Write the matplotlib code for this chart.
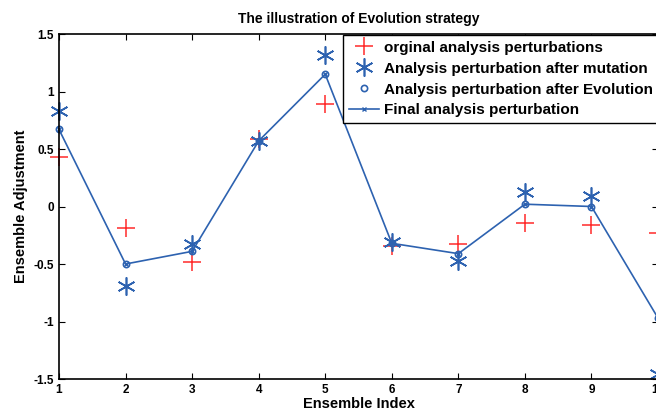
import matplotlib
matplotlib.use("Agg")
import matplotlib.pyplot as plt

plt.rcParams['font.family'] = ['Liberation Sans', 'DejaVu Sans']
plt.rcParams['font.weight'] = 'bold'

ensemble_index = [1, 2, 3, 4, 5, 6, 7, 8, 9, 10]
original = [0.43, -0.19, -0.48, 0.59, 0.89, -0.34, -0.33, -0.14, -0.16, -0.23]
mutated = [0.83, -0.69, -0.33, 0.57, 1.32, -0.31, -0.47, 0.13, 0.09, -1.46]
evolved = [0.67, -0.50, -0.39, 0.57, 1.15, -0.32, -0.41, 0.02, 0.00, -0.97]
final = evolved

blue = '#2d62b0'
red = '#ff2a2a'

fig = plt.figure(figsize=(6.56, 4.13), dpi=100)
ax = fig.add_axes([59/656, 1 - 379/413, (658 - 59)/656, (379 - 34)/413])

ax.plot(ensemble_index, original, '+', color=red, markersize=13, mew=1.1,
        clip_on=False, label='orginal analysis perturbations')
ax.plot(ensemble_index, mutated, linestyle='none', marker=(6, 2, 0), color=blue,
        markersize=13, mew=1.2, clip_on=False,
        label='Analysis perturbation after mutation')
ax.plot(ensemble_index, evolved, 'o', color=blue, markersize=4.5, mfc='none', mew=1.2,
        clip_on=False, label='Analysis perturbation after Evolution')
ax.plot(ensemble_index, final, '-x', color=blue, lw=1.2, markersize=3.5, mew=1.0,
        clip_on=False, label='Final analysis perturbation')

ax.set_xlim(1, 10)
ax.set_ylim(-1.5, 1.5)
ax.set_xticks(ensemble_index)
ax.set_yticks([-1.5, -1, -0.5, 0, 0.5, 1, 1.5])
ax.set_yticklabels(['-1.5', '-1', '-0.5', '0', '0.5', '1', '1.5'])
ax.tick_params(direction='in', top=True, right=True, labelsize=8.5, length=4, width=0.8)
for lbl in ax.get_xticklabels() + ax.get_yticklabels():
    lbl.set_fontweight('bold')
for sp in ax.spines.values():
    sp.set_linewidth(1.2)

ax.set_title('The illustration of Evolution strategy', fontsize=10, fontweight='bold', pad=8)
ax.set_xlabel('Ensemble Index', fontsize=10.5, fontweight='bold', labelpad=1)
ax.set_ylabel('Ensemble Adjustment', fontsize=10.5, fontweight='bold', labelpad=4)

leg = fig.legend(loc='upper left', bbox_to_anchor=(343/656, 1 - 35/413), fontsize=11,
                 fancybox=False, edgecolor='black', framealpha=1, borderpad=0.38,
                 labelspacing=0.45, handlelength=2.0, handletextpad=0.3,
                 borderaxespad=0.0)
leg.get_frame().set_linewidth(1.0)
for t in leg.get_texts():
    t.set_fontweight('bold')

fig.savefig('out.png', dpi=100)
